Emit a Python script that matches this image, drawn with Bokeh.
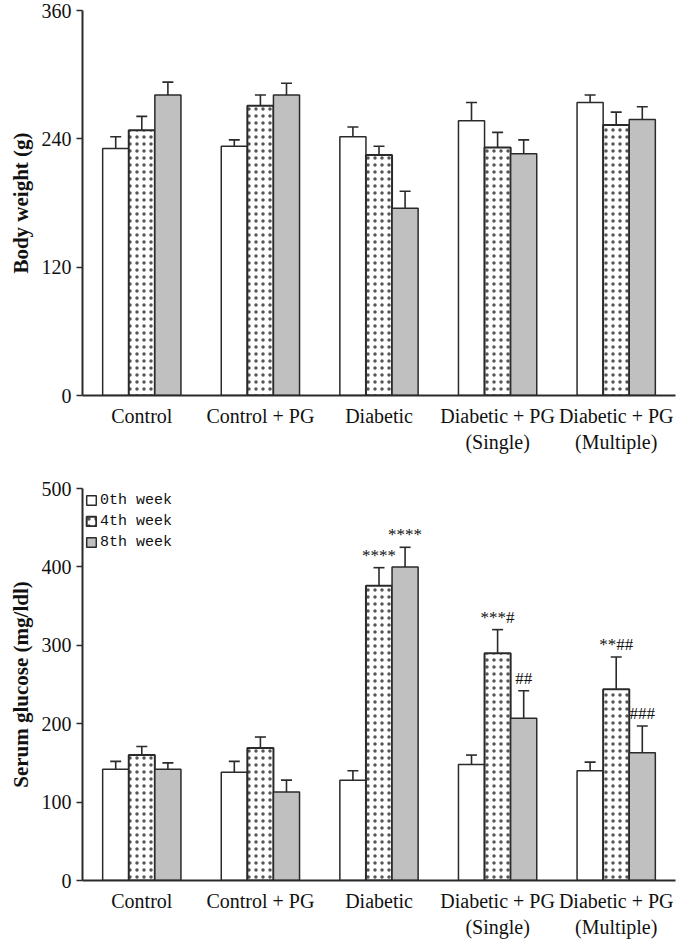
from bokeh.plotting import figure
from bokeh.models import ColumnDataSource, Whisker, TeeHead, FixedTicker
from bokeh.layouts import column
from bokeh.embed import file_html
from bokeh.resources import INLINE
from bokeh.core.properties import value

# ---------------- data ----------------
groups = ["Control", "Control + PG", "Diabetic",
          "Diabetic + PG\n(Single)", "Diabetic + PG\n(Multiple)"]
weeks = ["0th week", "4th week", "8th week"]

bw_0 = [231, 233, 242, 257, 274]
bw_0_err = [11, 6, 9, 17, 7]
bw_4 = [248, 271, 225, 232, 253]
bw_4_err = [13, 10, 8, 14, 12]
bw_8 = [281, 281, 175, 226, 258]
bw_8_err = [12, 11, 16, 13, 12]

glu_0 = [142, 138, 128, 148, 140]
glu_0_err = [10, 14, 12, 12, 11]
glu_4 = [160, 169, 376, 290, 244]
glu_4_err = [11, 14, 23, 30, 41]
glu_8 = [142, 113, 400, 207, 163]
glu_8_err = [8, 15, 25, 35, 34]
glu_4_marks = ["", "", "****", "***#", "**##"]
glu_8_marks = ["", "", "****", "##", "###"]

bw_ticks = [0, 120, 240, 360]
glu_ticks = [0, 100, 200, 300, 400, 500]

# ---------------- style ----------------
SERIF = "Liberation Serif"
EDGE = "#2a2a2a"
offsets = [-0.22, 0.0, 0.22]
bar_w = 0.22
styles = [
    dict(fill_color="white", line_color=EDGE, line_width=1.5),
    dict(fill_color="white", line_color=EDGE, line_width=2,
         hatch_pattern="dot", hatch_scale=7, hatch_weight=0.9, hatch_color="#555555"),
    dict(fill_color="#c0c0c0", line_color=EDGE, line_width=1.5),
]


def make_fig(height, ymax, ticks, ylabel, series, errs, marks,
             mb_left, mb_right, mb_top, mb_bottom, legend):
    p = figure(width=686, height=height, x_range=(-0.5, 4.5), y_range=(0, ymax),
               output_backend="svg", toolbar_location=None,
               min_border_left=mb_left, min_border_right=mb_right,
               min_border_top=mb_top, min_border_bottom=mb_bottom)
    p.outline_line_color = None
    p.xgrid.visible = False
    p.ygrid.visible = False
    p.background_fill_color = "white"

    n = len(groups)
    for k in range(3):
        xs = [i + offsets[k] for i in range(n)]
        vals = series[k]
        ups = [v + e for v, e in zip(vals, errs[k])]
        src = ColumnDataSource(dict(x=xs, top=vals, upper=ups, text=marks[k]))
        kw = dict(legend_label=weeks[k]) if legend else {}
        p.vbar(x="x", top="top", bottom=0, width=bar_w, source=src, **styles[k], **kw)
        w = Whisker(base="x", lower="top", upper="upper", source=src,
                    line_color=EDGE, line_width=1.6,
                    upper_head=TeeHead(size=11, line_color=EDGE, line_width=1.6),
                    lower_head=None)
        p.add_layout(w)
        if any(marks[k]):
            p.text(x="x", y="upper", text="text", source=src,
                   text_font=value(SERIF), text_font_size="17px",
                   text_align="center", text_baseline="bottom",
                   y_offset=-3, text_color="#111111")

    # x axis
    xa = p.xaxis[0]
    xa.ticker = FixedTicker(ticks=list(range(n)))
    xa.major_label_overrides = {i: g for i, g in enumerate(groups)}
    xa.major_tick_line_color = None
    xa.minor_tick_line_color = None
    xa.axis_line_color = EDGE
    xa.axis_line_width = 2
    xa.major_label_text_font = SERIF
    xa.major_label_text_font_size = "20px"
    xa.major_label_text_color = "#111111"
    xa.major_label_standoff = 3

    # y axis
    ya = p.yaxis[0]
    ya.ticker = FixedTicker(ticks=ticks)
    ya.minor_tick_line_color = None
    ya.major_tick_in = 0
    ya.major_tick_out = 6
    ya.major_tick_line_color = EDGE
    ya.major_tick_line_width = 1.5
    ya.axis_line_color = EDGE
    ya.axis_line_width = 2
    ya.major_label_text_font = SERIF
    ya.major_label_text_font_size = "20px"
    ya.major_label_text_color = "#111111"
    ya.major_label_standoff = 5
    ya.axis_label = ylabel
    ya.axis_label_text_font = SERIF
    ya.axis_label_text_font_size = "21px"
    ya.axis_label_text_font_style = "bold"
    ya.axis_label_text_color = "#111111"
    ya.axis_label_standoff = 6

    if legend:
        lg = p.legend[0]
        lg.location = "top_left"
        lg.background_fill_alpha = 0
        lg.border_line_color = None
        lg.label_text_font = "Liberation Mono"
        lg.label_text_font_size = "15px"
        lg.label_text_color = "#111111"
        lg.glyph_width = 12
        lg.glyph_height = 12
        lg.label_height = 18
        lg.label_standoff = 3
        lg.spacing = 3
        lg.padding = 2
        lg.margin = 3
    return p


empty = ["", "", "", "", ""]
top = make_fig(460, 360, bw_ticks, "Body weight (g)",
               [bw_0, bw_4, bw_8], [bw_0_err, bw_4_err, bw_8_err],
               [empty, empty, empty], 82, 10, 10, 65, False)
bottom = make_fig(480, 500, glu_ticks, "Serum glucose (mg/ldl)",
                  [glu_0, glu_4, glu_8], [glu_0_err, glu_4_err, glu_8_err],
                  [empty, glu_4_marks, glu_8_marks], 79, 11, 28, 60, True)

layout = column(top, bottom, spacing=0)
open("out.html", "w").write(file_html(layout, INLINE))
